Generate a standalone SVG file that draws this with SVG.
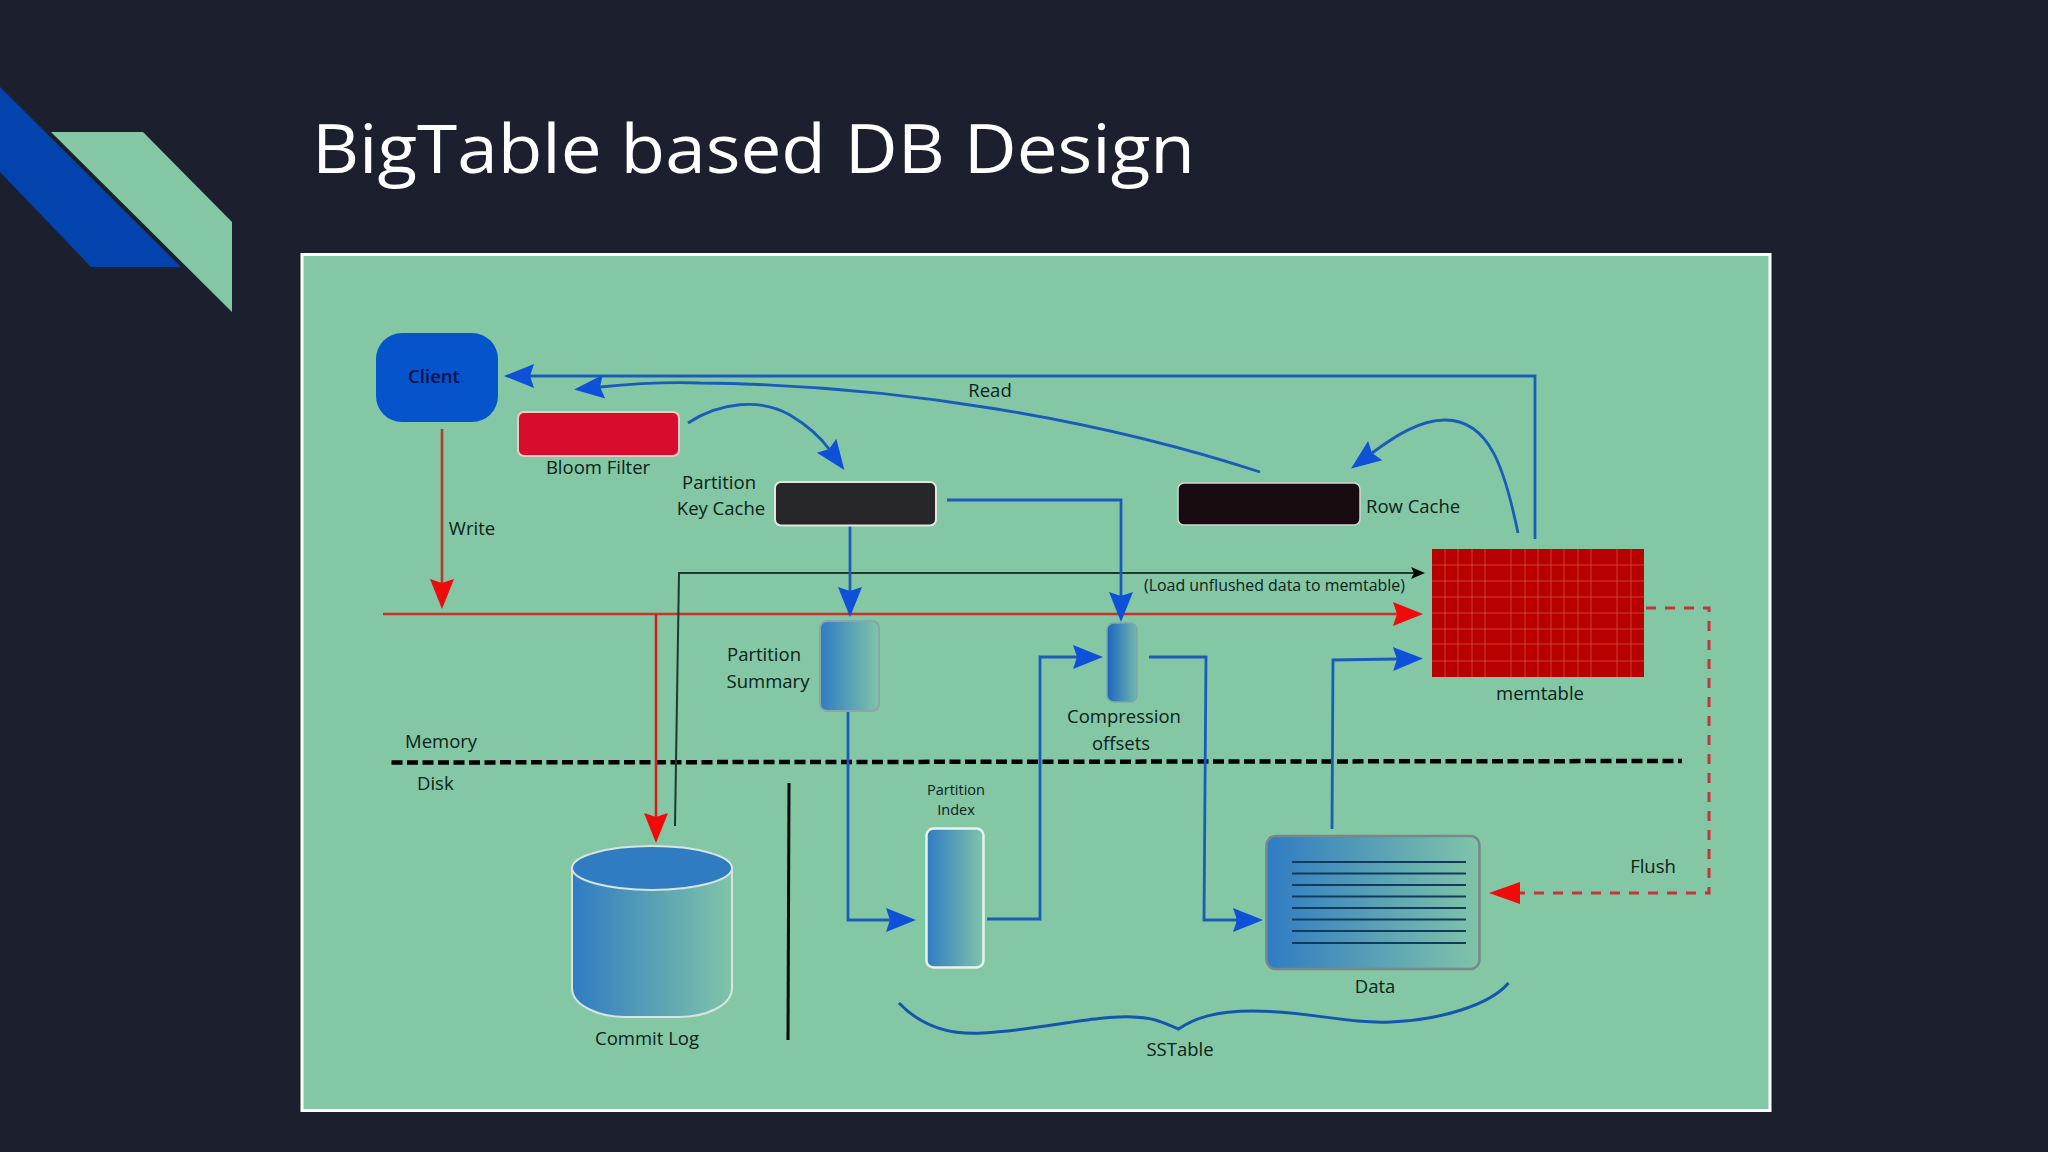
<svg xmlns="http://www.w3.org/2000/svg" width="2048" height="1152" viewBox="0 0 2048 1152">
<style>
text{font-family:"Open Sans","Noto Sans","Liberation Sans",sans-serif;font-size:18.5px;fill:#0a2219;text-anchor:middle}
.l{text-anchor:start}
.b{fill:none;stroke:#1a5cb8;stroke-width:2.8}
.r{fill:none;stroke:#c8322a;stroke-width:2.6}
.k{fill:none;stroke:#1c3a30;stroke-width:2}
.f{fill:none;stroke:#c8323a;stroke-width:3;stroke-dasharray:10 9}
.ab{marker-end:url(#ah)}
</style>
<defs>
<marker id="ah" markerUnits="userSpaceOnUse" markerWidth="32" markerHeight="26" viewBox="0 0 32 26" refX="5" refY="13" orient="auto"><path d="M31 13L1 1L5 13L1 25Z" fill="#0f50d8"/></marker>
<marker id="ahr" markerUnits="userSpaceOnUse" markerWidth="32" markerHeight="26" viewBox="0 0 32 26" refX="5" refY="13" orient="auto"><path d="M31 13L1 1L5 13L1 25Z" fill="#f00a0a"/></marker>
<marker id="ahk" markerUnits="userSpaceOnUse" markerWidth="16" markerHeight="14" viewBox="0 0 16 14" refX="4" refY="7" orient="auto"><path d="M15 7L1 1L4 7L1 13Z" fill="#050505"/></marker>
<linearGradient id="g"><stop offset="0" stop-color="#2f7cc4"/><stop offset="1" stop-color="#80c4a8"/></linearGradient>
<linearGradient id="gc"><stop offset="0" stop-color="#1c64c0"/><stop offset="1" stop-color="#72b8ae"/></linearGradient>
<linearGradient id="gl"><stop offset="0" stop-color="#0c2a58"/><stop offset="1" stop-color="#3d7374"/></linearGradient>
</defs>
<rect width="2048" height="1152" fill="#1c202e"/>
<polygon points="0,87 181,267 91,267 0,172" fill="#0343ad"/>
<polygon points="51,132 143,132 232,222 232,312" fill="#84c7a5"/>
<text x="312" y="173" class="l" style="font-size:68px;fill:#fff" textLength="883" lengthAdjust="spacingAndGlyphs">BigTable based DB Design</text>
<rect x="302" y="254.500" width="1468" height="856" fill="#84c7a5" stroke="#fff" stroke-width="3"/>

<g id="connectors">
<path d="M391.500 762.500L1682 761" fill="none" stroke="#000" stroke-width="4.500" stroke-dasharray="11 4.500"/>
<path class="r" d="M383 614H1397" marker-end="url(#ahr)"/>
<path class="r" d="M442 429V583" style="stroke:#b83a2a" marker-end="url(#ahr)"/>
<path class="r" d="M656 614V817" style="stroke:#d4201a" marker-end="url(#ahr)"/>
<path class="k" d="M675 826L679 573H1414" marker-end="url(#ahk)"/>
<path class="b ab" d="M1535 539V376H530"/>
<path class="b ab" d="M1260 472C1100 420 900 385 700 383C670 382 640 383 600 387"/>
<path class="b ab" d="M688 423C720 402 760 398 790 415C805 424 818 434 829 449"/>
<path class="b ab" d="M850 526V591"/>
<path class="b ab" d="M947 500H1121V596"/>
<path class="b ab" d="M848 711V920H890"/>
<path class="b ab" d="M987 919H1040V657H1077"/>
<path class="b ab" d="M1149 657H1206L1204 920H1237"/>
<path class="b ab" d="M1332 829L1333 660L1397 659"/>
<path class="b ab" d="M1518 533C1505 470 1490 420 1445 420C1420 420 1395 436 1372 453"/>
<path class="f" d="M1646 608H1709V893H1514"/>
<path d="M1489 893L1520 882L1520 904Z" fill="#f00a0a"/>
<path d="M789 783L788 1040" stroke="#0a0a0a" stroke-width="3" fill="none"/>
<path d="M899 1003C925 1030 955 1035 983 1033C1040 1030 1095 1015 1133 1017C1158 1018 1165 1024 1178.500 1029C1195 1018 1215 1011 1253 1011C1310 1011 1345 1024 1391 1022C1440 1020 1490 1005 1508.500 983" fill="none" stroke="#1456ac" stroke-width="3"/>
<text x="472" y="535">Write</text>
<text x="990" y="397">Read</text>
<text x="1144" y="591" class="l" style="font-size:15.500px" textLength="261" lengthAdjust="spacingAndGlyphs">(Load unflushed data to memtable)</text>
<text x="1653" y="873">Flush</text>
<text x="405" y="748" class="l">Memory</text>
<text x="417" y="790" class="l">Disk</text>
<text x="1180" y="1056">SSTable</text>
</g>

<g id="client">
<rect x="376" y="333" width="122" height="89" rx="26" fill="#0554cb"/>
<text x="434" y="383" style="fill:#04104a;font-weight:600">Client</text>
</g>
<g id="bloom-filter">
<rect x="518" y="412" width="161" height="44" rx="6" fill="#d80c2c" stroke="#f0c8c4" stroke-width="2"/>
<text x="598" y="474">Bloom Filter</text>
</g>
<g id="partition-key-cache">
<rect x="775" y="482" width="161" height="43.500" rx="6" fill="#272628" stroke="#e4e4e0" stroke-width="2"/>
<text x="719" y="489">Partition</text>
<text x="721" y="515">Key Cache</text>
</g>
<g id="row-cache">
<rect x="1178" y="483" width="182" height="42" rx="6" fill="#190c10" stroke="#d4d8d0" stroke-width="1.500"/>
<text x="1366" y="513" class="l">Row Cache</text>
</g>
<g id="memtable">
<rect x="1432" y="549" width="212" height="128" fill="#b80000"/>
<path d="M1445 549V677M1458 549V677M1472 549V677M1485 549V677M1511 549V677M1525 549V677M1538 549V677M1551 549V677M1564 549V677M1578 549V677M1591 549V677M1617 549V677M1631 549V677M1432 565H1644M1432 581H1644M1432 597H1644M1432 613H1644M1432 629H1644M1432 644H1644M1432 661H1644" stroke="#d85048" stroke-width="1" stroke-opacity=".75" fill="none"/>
<text x="1540" y="700">memtable</text>
</g>
<g id="partition-summary">
<rect x="820" y="621" width="59" height="90" rx="7" fill="url(#g)" stroke="#8aa6a8" stroke-width="2"/>
<text x="764" y="661">Partition</text>
<text x="768" y="688">Summary</text>
</g>
<g id="compression-offsets">
<rect x="1107" y="623" width="30" height="79" rx="7" fill="url(#gc)" stroke="#7aa8a8" stroke-width="1.500"/>
<text x="1124" y="723">Compression</text>
<text x="1121" y="750">offsets</text>
</g>
<g id="partition-index">
<rect x="926.500" y="828.500" width="57" height="139" rx="7" fill="url(#g)" stroke="#eaf2ee" stroke-width="2.500"/>
<text x="956" y="795" style="font-size:14.500px">Partition</text>
<text x="956" y="815" style="font-size:14.500px">Index</text>
</g>
<g id="data">
<rect x="1266.500" y="836" width="213" height="133" rx="9" fill="url(#g)" stroke="#76888a" stroke-width="2.500"/>
<path d="M1292 862H1466M1292 873.500H1466M1292 885H1466M1292 896.500H1466M1292 908H1466M1292 919.500H1466M1292 931H1466M1292 943H1466" stroke="#123a5c" stroke-width="1.800" fill="none"/>
<text x="1375" y="993">Data</text>
</g>
<g id="commit-log">
<path d="M572 868V988C572 1006 600 1017 625 1017H679C705 1017 732 1006 732 988V868Z" fill="url(#g)" stroke="#d8e4e2" stroke-width="2"/>
<ellipse cx="652" cy="868" rx="80" ry="22" fill="#2f7cc3" stroke="#d8e4e2" stroke-width="2"/>
<text x="647" y="1045">Commit Log</text>
</g>
</svg>
